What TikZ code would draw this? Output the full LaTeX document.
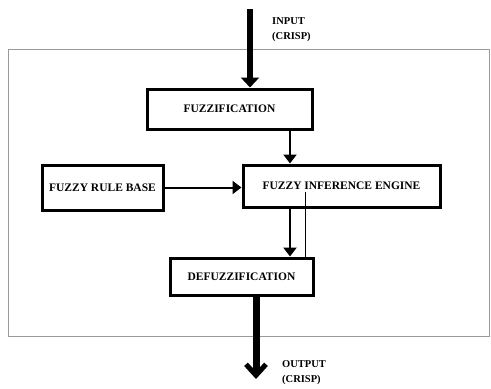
\documentclass[tikz,border=0pt]{standalone}
\usepackage{fontspec}
\setmainfont{Liberation Serif}
\usepackage{tikz}
\usetikzlibrary{arrows.meta, positioning, calc}

\begin{document}
\begin{tikzpicture}[
    x=1pt, y=-1pt,
    block/.style={draw, rectangle, line width=3pt, align=center, inner sep=2pt, font=\fontsize{11.5}{13}\selectfont\bfseries},
    frame/.style={draw=black!40, line width=1pt, rectangle, minimum width=481pt, minimum height=287pt, inner sep=0pt},
    tag/.style={anchor=west, align=left, inner sep=0pt, font=\fontsize{10.5}{15}\selectfont\bfseries},
    bigarrow/.style={line width=6.5pt, -{Triangle[length=10pt,width=18pt]}},
    outarrow/.style={line width=7pt, -{Straight Barb[length=11pt,width=20pt,line width=5pt]}},
    arrow/.style={line width=2.6pt, -{Triangle[length=9pt,width=13pt]}}
]
\useasboundingbox (0,0) rectangle (491,389);

% Panel round the system
\node[frame] (panel) at (248.5,192.5) {};

% Blocks
\node[block, minimum width=165pt, minimum height=40pt] (fuzz) at (229.5,109) {FUZZIFICATION};
\node[block, minimum width=197pt, minimum height=42pt] (infer) at (341.5,186) {FUZZY INFERENCE ENGINE};
\node[block, minimum width=121pt, minimum height=45pt] (rules) at (102.5,187.5) {FUZZY RULE BASE};
\node[block, minimum width=143pt, minimum height=37pt] (defuzz) at (241.5,276.5) {DEFUZZIFICATION};

% Free ends and columns
\coordinate (in) at (250,9);
\coordinate (out) at (256,379);
\coordinate (col) at (290,0);
\coordinate (tick) at (305,192);

% Labels
\node[tag] (inlbl) at (272,30) {INPUT\\(CRISP)};
\node[tag] (outlbl) at (282,373) {OUTPUT\\(CRISP)};

% Connections
\draw[bigarrow] (in) -- (in |- fuzz.north);
\draw[arrow] (fuzz.south -| col) -- (infer.north -| col);
\draw[arrow, line width=2pt] (rules.east) -- (rules.east -| infer.west);
\draw[arrow] (infer.south -| col) -- (defuzz.north -| col);
\draw[line width=0.6pt] (tick) -- (tick |- defuzz.north);
\draw[outarrow] (defuzz.south -| out) -- (out);

\end{tikzpicture}
\end{document}
